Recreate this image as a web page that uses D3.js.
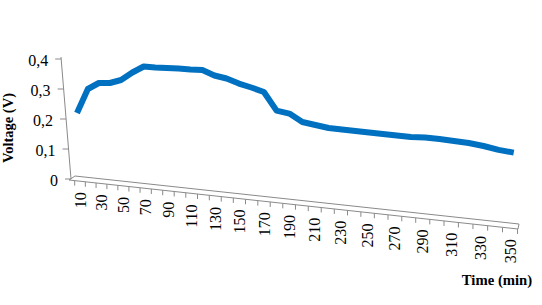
<!DOCTYPE html>
<html><head><meta charset="utf-8">
<script src="https://cdn.jsdelivr.net/npm/d3@7"></script>
<style>html,body{margin:0;padding:0;background:#fff;}svg{display:block;}</style>
</head><body>
<script>
const times = [10,20,30,40,50,60,70,80,90,100,110,120,130,140,150,160,170,180,190,200,210,220,230,240,250,260,270,280,290,300,310,320,330,340,350];
const voltage = [0.22,0.30,0.32,0.32,0.33,0.355,0.375,0.372,0.37,0.368,0.365,0.363,0.345,0.335,0.318,0.305,0.29,0.228,0.218,0.19,0.18,0.17,0.165,0.16,0.155,0.15,0.145,0.14,0.138,0.133,0.127,0.12,0.11,0.097,0.088];
const xTickLabels = [10,30,50,70,90,110,130,150,170,190,210,230,250,270,290,310,330,350];
const yTicks = [0,0.1,0.2,0.3,0.4];
const yTickLabels = ["0","0,1","0,2","0,3","0,4"];

const W = 542, H = 305;
const svg = d3.select("body").append("svg").attr("width", W).attr("height", H);
const font = "'Liberation Serif','Times New Roman',serif";
const grey = "#8a8a8a";

// category value -> index
const idx = d3.scaleLinear().domain([10, 350]).range([0, 34]);
const persp = (A, B, C) => k => (A + B * k) / (1 + C * k);
const frontX = persp(80, 10.269, -0.004663);
const lineXk = persp(77, 10.45, -0.004663);
const lineX = t => lineXk(idx(t));

const y = d3.scaleLinear().domain([0, 0.4]).range([179, 59]);

// floor geometry
const yb = x => 180 + (x - 69) * (49 / 449);
const yt = x => 176 + (x - 75) * (48 / 444);

svg.append("polygon")
  .attr("points", [[75, yt(75)], [519, yt(519)], [518, yb(518)], [69, yb(69)]].map(p => p.join(",")).join(" "))
  .attr("fill", "#fff").attr("stroke", grey).attr("stroke-width", 1);

// x ticks at category boundaries
const boundaries = d3.range(0, 36).map(b => b - 0.5);
svg.append("g").selectAll("line").data(boundaries).join("line")
  .attr("x1", d => frontX(d)).attr("x2", d => frontX(d))
  .attr("y1", d => yb(frontX(d))).attr("y2", d => yb(frontX(d)) + 5)
  .attr("stroke", grey).attr("stroke-width", 1);

// x labels
svg.append("g").selectAll("text").data(xTickLabels).join("text")
  .attr("transform", d => { const x = frontX(idx(d)); return `translate(${x},${yb(x) + 11}) rotate(-90)`; })
  .attr("text-anchor", "end").attr("dominant-baseline", "central")
  .attr("font-family", font).attr("font-size", 16).attr("fill", "#000")
  .text(d => d);

// y axis (slanted)
const axisX = yy => 71 - (179 - yy) * (10 / 122);
svg.append("line").attr("x1", axisX(57)).attr("y1", 57).attr("x2", axisX(179)).attr("y2", 179)
  .attr("stroke", grey).attr("stroke-width", 1);
svg.append("g").selectAll("line").data(yTicks).join("line")
  .attr("x1", d => axisX(y(d)) - 6).attr("x2", d => axisX(y(d)))
  .attr("y1", d => y(d)).attr("y2", d => y(d))
  .attr("stroke", grey).attr("stroke-width", 1);
svg.append("g").selectAll("text").data(yTicks).join("text")
  .attr("x", d => axisX(y(d)) - 13).attr("y", d => y(d) + 1)
  .attr("text-anchor", "end").attr("dominant-baseline", "central")
  .attr("font-family", font).attr("font-size", 16).attr("fill", "#000")
  .text((d, i) => yTickLabels[i]);

// data line
const data = times.map((t, i) => ({ t, v: voltage[i] }));
svg.append("path").datum(data)
  .attr("d", d3.line().x(d => lineX(d.t)).y(d => y(d.v)))
  .attr("fill", "none").attr("stroke", "#0070C0").attr("stroke-width", 6)
  .attr("stroke-linejoin", "round").attr("stroke-linecap", "butt");

// titles
svg.append("text").attr("transform", "translate(8,128) rotate(-90)")
  .attr("text-anchor", "middle").attr("dominant-baseline", "central")
  .attr("font-family", font).attr("font-size", 14.5).attr("font-weight", "bold").attr("fill", "#000")
  .text("Voltage (V)");
svg.append("text").attr("x", 497).attr("y", 280)
  .attr("text-anchor", "middle").attr("dominant-baseline", "central")
  .attr("font-family", font).attr("font-size", 14.7).attr("font-weight", "bold").attr("fill", "#000")
  .text("Time (min)");
</script>
</body></html>
